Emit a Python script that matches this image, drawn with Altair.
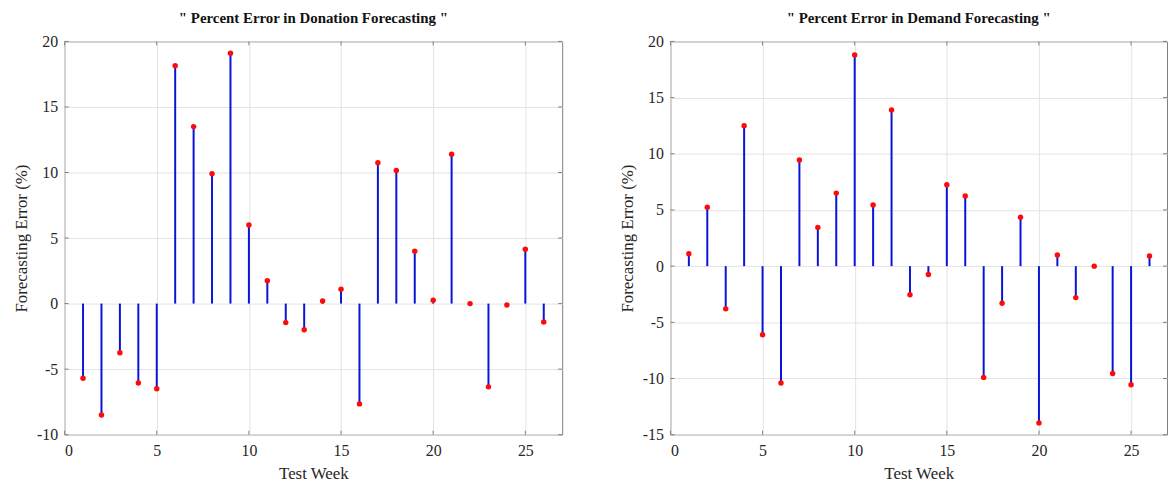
import altair as alt
import pandas as pd

weeks = list(range(1, 27))
donation_error = [-5.7, -8.5, -3.75, -6.05, -6.5, 18.15, 13.5, 9.9, 19.1, 6.0,
                  1.75, -1.45, -2.0, 0.2, 1.1, -7.65, 10.75, 10.15, 4.0, 0.25,
                  11.4, 0.0, -6.35, -0.1, 4.15, -1.4]
demand_error = [1.1, 5.25, -3.8, 12.5, -6.1, -10.4, 9.45, 3.45, 6.5, 18.8,
                5.45, 13.9, -2.55, -0.75, 7.25, 6.25, -9.9, -3.3, 4.35, -13.95,
                1.0, -2.8, 0.0, -9.55, -10.55, 0.9]
x_ticks = [0, 5, 10, 15, 20, 25]
donation_y_ticks = [-10, -5, 0, 5, 10, 15, 20]
demand_y_ticks = [-15, -10, -5, 0, 5, 10, 15, 20]

BLUE = "#0a14d6"
RED = "#ff0a0a"
FRAME = "#7f7f7f"
FONT = "Liberation Serif"
H = 396
TL = 4


def panel(values, title, ydomain, yticks, xmax, width):
    df = pd.DataFrame({"week": weeks, "err": values, "zero": [0] * len(weeks)})
    xs = alt.Scale(domain=[0, xmax], nice=False, zero=False)
    ys = alt.Scale(domain=ydomain, nice=False, zero=False)
    xaxis = alt.Axis(values=x_ticks, title="Test Week", grid=True, labelPadding=8,
                     titlePadding=7, labelFont=FONT, labelFontSize=16,
                     labelExpr="'' + datum.value")
    yaxis = alt.Axis(values=yticks, title="Forecasting Error (%)", grid=True,
                     labelPadding=7, titlePadding=6, labelFont=FONT, labelFontSize=16,
                     labelExpr="'' + datum.value")
    base = alt.Chart(df)
    stems = base.mark_rule(color=BLUE, strokeWidth=2).encode(
        x=alt.X("week:Q", scale=xs, axis=xaxis, title="Test Week"),
        y=alt.Y("err:Q", scale=ys, axis=yaxis, title="Forecasting Error (%)"),
        y2="zero:Q",
    )
    dots = base.mark_point(filled=True, color=RED, size=30, opacity=1).encode(
        x=alt.X("week:Q", title="Test Week"),
        y=alt.Y("err:Q", title="Forecasting Error (%)"),
    )
    xt = alt.Chart(pd.DataFrame({"t": x_ticks}))
    yt = alt.Chart(pd.DataFrame({"t": yticks}))
    xtick_b = xt.mark_rule(color=FRAME, strokeWidth=1).encode(
        x=alt.X("t:Q", title="Test Week"), y=alt.value(H), y2=alt.value(H - TL))
    xtick_t = xt.mark_rule(color=FRAME, strokeWidth=1).encode(
        x=alt.X("t:Q", title="Test Week"), y=alt.value(0), y2=alt.value(TL))
    ytick_l = yt.mark_rule(color=FRAME, strokeWidth=1).encode(
        y=alt.Y("t:Q", title="Forecasting Error (%)"), x=alt.value(0), x2=alt.value(TL))
    ytick_r = yt.mark_rule(color=FRAME, strokeWidth=1).encode(
        y=alt.Y("t:Q", title="Forecasting Error (%)"), x=alt.value(width - TL), x2=alt.value(width))
    return alt.layer(stems, dots, xtick_b, xtick_t, ytick_l, ytick_r).properties(
        width=width, height=H,
        title=alt.TitleParams(text=title, font=FONT, fontSize=15, fontWeight="bold",
                              color="#111111", offset=8, anchor="middle"),
    )


left = panel(donation_error, '" Percent Error in Donation Forecasting "',
             [-10, 20], donation_y_ticks, 27, 501)
right = panel(demand_error, '" Percent Error in Demand Forecasting "',
              [-15, 20], demand_y_ticks, 26.95, 500)

chart = alt.hconcat(left, right, spacing=109, bounds="flush").properties(
    padding={"left": 4, "top": 0, "right": 0, "bottom": 0}
).configure_axis(
    labelFont=FONT, labelFontSize=16, labelColor="#262626",
    titleFont=FONT, titleFontSize=17, titleFontWeight="normal", titleColor="#262626",
    gridColor="#e3e3e3", gridWidth=1, domain=False, ticks=False,
).configure_view(stroke=FRAME, strokeWidth=1)

chart.save("out.html", embed_options={"renderer": "svg", "actions": False})
